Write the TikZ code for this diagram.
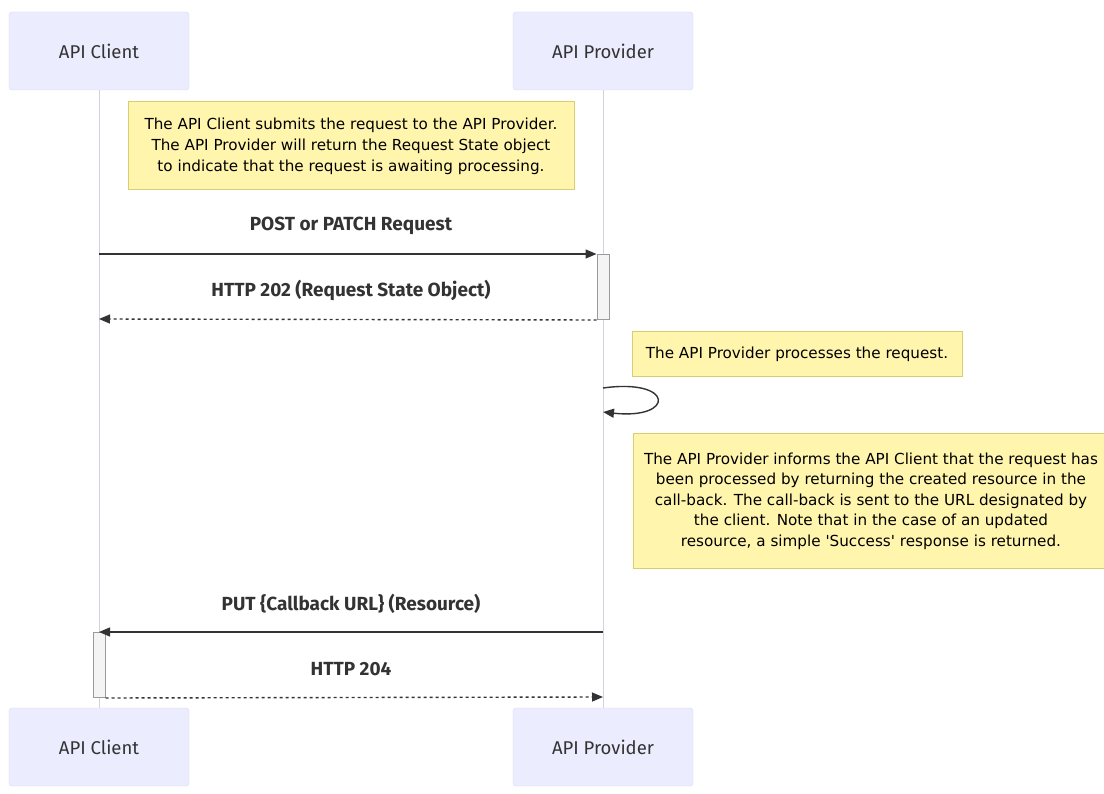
\documentclass[tikz,border=0pt]{standalone}
\usepackage{fontspec}
\setmainfont{Fira Sans}
\newfontfamily\notefont{DejaVu Sans}
\usetikzlibrary{arrows.meta}

\definecolor{actorfill}{HTML}{ECECFF}
\definecolor{actorline}{HTML}{D8D8F4}
\definecolor{lifeline}{HTML}{D2D2DE}
\definecolor{notefill}{HTML}{FFF5AD}
\definecolor{noteline}{HTML}{D6CE70}
\definecolor{ink}{HTML}{333333}
\definecolor{actfill}{HTML}{F4F4F4}
\definecolor{actline}{HTML}{9A9A9A}

\tikzset{
  actor/.style={draw=actorline, fill=actorfill, rounded corners=3pt,
    minimum width=180pt, minimum height=78pt, inner sep=0pt,
    text=ink, font=\fontsize{18.5}{22}\selectfont},
  lifelinestyle/.style={draw=lifeline, line width=1pt},
  note/.style={draw=noteline, fill=notefill, line width=1pt, align=center,
    inner sep=0pt, text=black, font=\notefont\fontsize{15.2}{21}\selectfont},
  msglabel/.style={text=ink, font=\fontsize{19}{22}\bfseries\selectfont},
  msg/.style={draw=ink, line width=1.4pt, -{Triangle[length=11pt,width=9pt]}},
  reply/.style={msg, dash pattern=on 3pt off 3pt},
  activation/.style={draw=actline, fill=actfill, line width=1pt,
    minimum width=12pt, inner sep=0pt}
}

\begin{document}
\begin{tikzpicture}[x=1pt,y=-1pt]
\useasboundingbox (0,0) rectangle (1104,794);

% participants, top and bottom
\node[actor] (cTop) at (99,51)  {API Client};
\node[actor] (pTop) at (603,51) {API Provider};
\node[actor] (cBot) at (99,747)  {API Client};
\node[actor] (pBot) at (603,747) {API Provider};

% lifelines
\draw[lifelinestyle] (cTop.south) -- (cBot.north);
\draw[lifelinestyle] (pTop.south) -- (pBot.north);

% opening note
\node[note, minimum width=446pt, minimum height=88pt] (n1) at (351,146)
  {The API Client submits the request to the API Provider.\\
   The API Provider will return the Request State object\\
   to indicate that the request is awaiting processing.};

% request / accepted response
\coordinate (c1) at (99,254);
\coordinate (p1) at (603,254);
\node[activation, minimum height=65pt, anchor=north] (actP) at (p1) {};
\coordinate (c2) at (99,319);
\path (actP.south west) coordinate (p2);
\draw[msg] (c1) -- (actP.north west);
\draw[reply] (p2) -- (c2);
\node[msglabel] (m1) at (351,226) {POST or PATCH Request};
\node[msglabel] (m2) at (351,290) {HTTP 202 (Request State Object)};

% processing
\node[note, minimum width=330pt, minimum height=45pt] (n2) at (797,354)
  {The API Provider processes the request.};
\coordinate (s1) at (603,388);
\coordinate (s2) at (603,412);
\draw[msg] (s1) .. controls +(72,-10) and +(72,8) .. (s2);

% call-back note
\node[note, minimum width=476pt, minimum height=134pt,
      font=\notefont\fontsize{15.2}{20.5}\selectfont] (n3) at (871,501)
  {The API Provider informs the API Client that the request has\\
   been processed by returning the created resource in the\\
   call-back. The call-back is sent to the URL designated by\\
   the client. Note that in the case of an updated\\
   resource, a simple \textquotesingle Success\textquotesingle{} response is returned.};

% call-back and acknowledgement
\coordinate (p3) at (603,632);
\coordinate (c3) at (99,632);
\node[activation, minimum height=65pt, anchor=north] (actC) at (c3) {};
\coordinate (p4) at (603,697);
\draw[msg] (p3) -- (actC.north);
\draw[reply] (actC.south east) -- (p4);
\node[msglabel] (m3) at (351,604) {PUT \{Callback URL\} (Resource)};
\node[msglabel] (m4) at (351,669) {HTTP 204};
\end{tikzpicture}
\end{document}
